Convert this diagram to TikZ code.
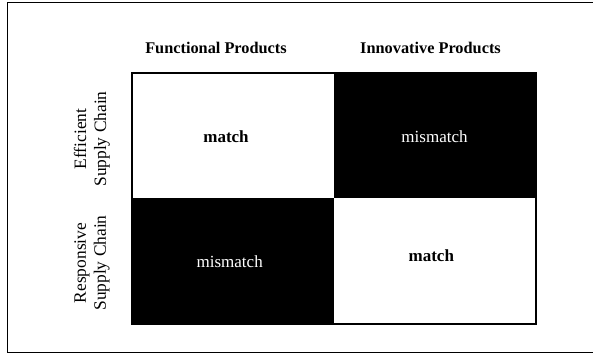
\documentclass[tikz,border=0pt]{standalone}
\usepackage{fontspec}
\setmainfont{Liberation Serif}
\begin{document}
\begin{tikzpicture}[x=1pt,y=-1pt,
  frameline/.style={line width=1.2pt},
  gridline/.style={line width=1.6pt},
  header/.style={font=\fontsize{16.3}{19}\selectfont\bfseries},
  celltext/.style={font=\fontsize{17}{20}\selectfont},
  rowlabel/.style={font=\fontsize{17.4}{20}\selectfont, rotate=90, align=center}]
\useasboundingbox (0,0) rectangle (593,356);
% surrounding frame, open on the right
\draw[frameline] (594,2.5) -- (7.5,2.5) -- (7.5,352.5) -- (594,352.5);
% the 2x2 matrix
\coordinate (tl) at (132,73);
\coordinate (mid) at (334,198);
\coordinate (br) at (536,324);
\fill[black] (334,73) rectangle (536,198);
\fill[black] (132,198) rectangle (334,324);
\draw[gridline] (tl) rectangle (br);
% column headers
\node[header] (fp) at (216,48) {Functional Products};
\node[header] (ip) at (430.5,48) {Innovative Products};
% row headers
\node[rowlabel] (esc) at (92,139) {Efficient\\Supply Chain};
\node[rowlabel] (rsc) at (92,263) {Responsive\\Supply Chain};
% cell contents
\node[celltext, font=\fontsize{17}{20}\selectfont\bfseries] (m1) at (226,137) {match};
\node[celltext, text=white] (mm1) at (434.5,137) {mismatch};
\node[celltext, text=white] (mm2) at (229.7,261.5) {mismatch};
\node[celltext, font=\fontsize{17}{20}\selectfont\bfseries] (m2) at (431.3,255.5) {match};
\end{tikzpicture}
\end{document}
